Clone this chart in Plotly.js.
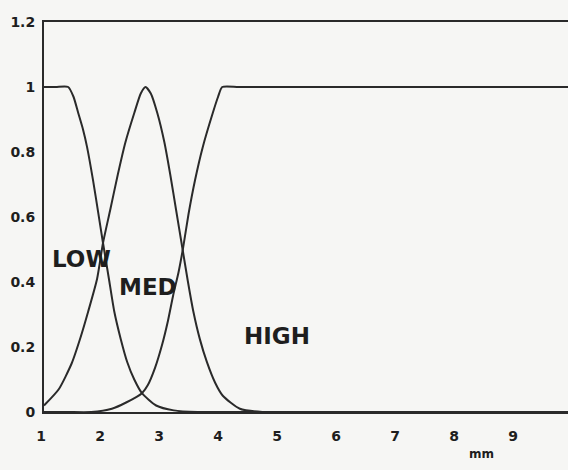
<!DOCTYPE html>
<html>
<head>
<meta charset="utf-8">
<script src="https://cdn.plot.ly/plotly-3.0.1.min.js"></script>
<style>
  html, body { margin: 0; padding: 0; background: #f6f6f4; overflow: hidden; }
  #chart { width: 568px; height: 470px; }
</style>
</head>
<body>
<div id="chart"></div>
<script>
// Membership curves (x in mm, y = membership)
const lowX  = [1, 1.2, 1.41, 1.5, 1.58, 1.66, 1.73, 1.83, 1.92, 2.0, 2.1, 2.19, 2.3, 2.41, 2.53, 2.66, 2.9, 3.2, 3.6, 4.5, 6, 8, 9.88];
const lowY  = [1, 1, 1, 0.97, 0.92, 0.87, 0.815, 0.714, 0.612, 0.52, 0.41, 0.31, 0.225, 0.154, 0.1, 0.058, 0.02, 0.005, 0, 0, 0, 0, 0];

const medX  = [1, 1.25, 1.47, 1.62, 1.75, 1.9, 2.0, 2.12, 2.25, 2.38, 2.53, 2.64, 2.72, 2.81, 2.92, 3.04, 3.14, 3.24, 3.34, 3.44, 3.53, 3.64, 3.76, 3.9, 4.03, 4.32, 4.7, 5.5, 7, 8.5, 9.88];
const medY  = [0.02, 0.07, 0.15, 0.23, 0.31, 0.41, 0.52, 0.62, 0.73, 0.83, 0.92, 0.98, 1, 0.98, 0.92, 0.83, 0.73, 0.62, 0.51, 0.4, 0.31, 0.225, 0.154, 0.09, 0.05, 0.01, 0, 0, 0, 0, 0];

const highX = [1, 1.4, 1.8, 2.15, 2.4, 2.66, 2.76, 2.88, 3.0, 3.1, 3.19, 3.28, 3.36, 3.45, 3.56, 3.69, 3.86, 3.95, 4.02, 4.3, 5, 6, 7, 8, 9, 9.88];
const highY = [0, 0, 0, 0.01, 0.03, 0.058, 0.083, 0.135, 0.206, 0.28, 0.36, 0.43, 0.508, 0.61, 0.714, 0.815, 0.92, 0.97, 1, 1, 1, 1, 1, 1, 1, 1];

const xTickVals = [1, 2, 3, 4, 5, 6, 7, 8, 9];
const xTickText = ["1", "2", "3", "4", "5", "6", "7", "8", "9"];
const yTickVals = [0, 0.2, 0.4, 0.6, 0.8, 1, 1.2];
const yTickText = ["0", "0.2", "0.4", "0.6", "0.8", "1", "1.2"];

const labelNames = ["LOW", "MED", "HIGH"];
const labelX = [1.63, 2.76, 4.95];
const labelY = [0.47, 0.385, 0.234];

const lineColor = "#2a2a2a";
const font = { family: "DejaVu Sans, Arial, sans-serif", color: "#1e1e1e", weight: "bold" };

function curve(x, y, name) {
  return {
    x: x, y: y, name: name, type: "scatter", mode: "lines",
    line: { color: lineColor, width: 2, shape: "spline", smoothing: 0.6 },
    hoverinfo: "skip", showlegend: false
  };
}

const data = [curve(lowX, lowY, "LOW"), curve(medX, medY, "MED"), curve(highX, highY, "HIGH")];

const annotations = labelNames.map((t, i) => ({
  x: labelX[i], y: labelY[i], xref: "x", yref: "y", text: t, showarrow: false,
  xanchor: "center", yanchor: "middle",
  font: Object.assign({}, font, { size: 23 })
}));
annotations.push({
  x: (481 - 44) / 524, y: (412 - 454) / 390, xref: "paper", yref: "paper",
  xanchor: "center", yanchor: "middle", text: "mm", showarrow: false,
  font: Object.assign({}, font, { size: 12 })
});

const layout = {
  width: 568, height: 470,
  margin: { l: 44, r: 0, t: 22, b: 58, pad: 0 },
  paper_bgcolor: "#f6f6f4", plot_bgcolor: "#f6f6f4",
  showlegend: false,
  font: Object.assign({}, font, { size: 14 }),
  xaxis: {
    range: [1, 9.88], showgrid: false, zeroline: false,
    showline: true, mirror: true, linecolor: lineColor, linewidth: 2,
    tickvals: xTickVals, ticktext: xTickText, ticks: "",
    ticklabelstandoff: 10, ticklabelshift: -3,
    tickfont: Object.assign({}, font, { size: 14 }),
    fixedrange: true
  },
  yaxis: {
    range: [0, 1.2], showgrid: false, zeroline: false,
    showline: true, linecolor: lineColor, linewidth: 2,
    tickvals: yTickVals, ticktext: yTickText, ticks: "",
    ticklabelstandoff: 4,
    tickfont: Object.assign({}, font, { size: 14 }),
    fixedrange: true
  },
  annotations: annotations
};

Plotly.newPlot("chart", data, layout, { staticPlot: true, displayModeBar: false });
</script>
</body>
</html>
